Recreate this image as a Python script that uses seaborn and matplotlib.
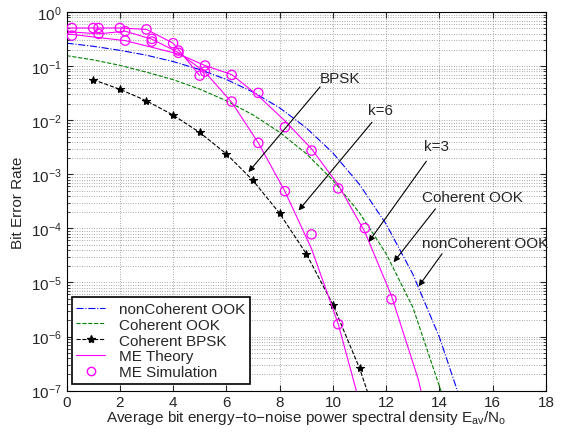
import matplotlib
matplotlib.use('Agg')
import matplotlib.pyplot as plt
import seaborn as sns
from matplotlib.lines import Line2D
from matplotlib.ticker import LogLocator, NullFormatter

# Curvas teóricas
snr_ook = [0, 1, 2, 3, 4, 5, 6, 7, 8, 9, 10, 11, 12, 13, 14, 15]
noncoh_ook = [0.267, 0.234, 0.197, 0.160, 0.122, 0.0869, 0.0569, 0.0333, 0.0170,
              0.00726, 0.00249, 6.5e-4, 1.2e-4, 1.43e-5, 9.7e-7, 3.3e-8]
coh_ook = [0.157, 0.131, 0.104, 0.0777, 0.0565, 0.0377, 0.023, 0.0126, 0.0060,
           0.00242, 7.8e-4, 1.94e-4, 3.4e-5, 3.5e-6, 1.2e-7, 4e-9]

snr_bpsk = [1, 2, 3, 4, 5, 6, 7, 8, 9, 10, 11, 12]
coh_bpsk = [0.0563, 0.0375, 0.0229, 0.0125, 0.00595, 0.00239, 7.7e-4, 1.9e-4,
            3.4e-5, 3.9e-6, 2.6e-7, 9e-9]

# ME teoría (k=6, k=3 y tramo inicial)
me_k6_x = [0, 1.2, 2.2, 3.2, 4.2, 5.2, 6.2, 7.2, 8.2, 9.2, 10.2, 11.2]
me_k6_y = [0.438, 0.397, 0.445, 0.317, 0.179, 0.0776, 0.0216, 0.00382, 4.84e-4,
           4.18e-5, 1.71e-6, 2.6e-8]
me_k3_x = [0, 2.2, 4.2, 5.2, 6.2, 7.2, 8.2, 9.2, 10.2, 11.2, 12.2, 13.2, 14.2]
me_k3_y = [0.397, 0.298, 0.169, 0.103, 0.0701, 0.0283, 0.00975, 0.00296, 6.38e-4,
           8.63e-5, 5.65e-6, 1.65e-7, 1.5e-9]
me_low_x = [0, 1, 2, 3, 4, 5]
me_low_y = [0.51, 0.51, 0.51, 0.48, 0.267, 0.067]

# ME simulación
sim_k3_x = [0.2, 1.2, 2.2, 3.2, 4.2, 5.2, 6.2, 7.2, 8.2, 9.2, 10.2, 11.2, 12.2]
sim_k3_y = [0.369, 0.397, 0.298, 0.286, 0.177, 0.103, 0.069, 0.0321, 0.00746,
            0.00275, 5.5e-4, 1.01e-4, 4.9e-6]
sim_k6_x = [0.2, 1.2, 2.2, 3.2, 4.2, 5.2, 6.2, 7.2, 8.2, 9.2, 10.2]
sim_k6_y = [0.51, 0.51, 0.445, 0.321, 0.195, 0.0796, 0.0222, 0.00382, 4.89e-4,
            7.76e-5, 1.69e-6]
sim_int_x = [1, 2, 3, 4, 5]
sim_int_y = [0.51, 0.51, 0.48, 0.267, 0.067]

sns.set_style('ticks')
plt.rcParams['font.family'] = ['Liberation Sans', 'DejaVu Sans']
plt.rcParams['mathtext.fontset'] = 'custom'
plt.rcParams['mathtext.rm'] = 'Liberation Sans'
plt.rcParams['mathtext.it'] = 'Liberation Sans:italic'
plt.rcParams['font.size'] = 11

fig = plt.figure(figsize=(5.64, 4.39), dpi=100)
ax = fig.add_axes([0.118, 0.108, 0.850, 0.862])
ax.set_yscale('log')

LW = 0.8
sns.lineplot(x=snr_ook, y=noncoh_ook, ax=ax, color='#0000ff', lw=LW, linestyle='-.', sort=False)
sns.lineplot(x=snr_ook, y=coh_ook, ax=ax, color='#008000', lw=LW, linestyle='--', sort=False)
sns.lineplot(x=snr_bpsk, y=coh_bpsk, ax=ax, color='k', lw=LW, linestyle='--', marker='*',
             markersize=6, markeredgecolor='k', sort=False)
for xs, ys in [(me_k6_x, me_k6_y), (me_k3_x, me_k3_y), (me_low_x, me_low_y)]:
    sns.lineplot(x=xs, y=ys, ax=ax, color='#ff00ff', lw=LW, sort=False)
for xs, ys in [(sim_k3_x, sim_k3_y), (sim_k6_x, sim_k6_y), (sim_int_x, sim_int_y)]:
    sns.scatterplot(x=xs, y=ys, ax=ax, marker='o', s=45, color='#ff00ff',
                    facecolor='none', edgecolor='#ff00ff', linewidth=0.9, zorder=3)

ax.set_xlim(0, 18)
ax.set_ylim(1e-7, 1)
ax.set_xticks(range(0, 19, 2))
ax.yaxis.set_major_locator(LogLocator(base=10, numticks=10))
ax.yaxis.set_minor_locator(LogLocator(base=10, subs=range(2, 10), numticks=20))
ax.yaxis.set_minor_formatter(NullFormatter())
ax.tick_params(which='both', direction='in', top=True, right=True, labelsize=11)
ax.tick_params(which='major', length=4)
ax.tick_params(which='minor', length=2)
ax.grid(True, which='major', color='0.35', lw=0.5, linestyle=(0, (1, 2.5)))
ax.grid(True, which='minor', axis='y', color='0.35', lw=0.5, linestyle=(0, (1, 2.5)))
for s in ax.spines.values():
    s.set_linewidth(0.8)
    s.set_color('k')

ax.set_xlabel('Average bit energy\u2212to\u2212noise power spectral density E$_{\\rm av}$/N$_{\\rm o}$',
              labelpad=-1)
ax.set_ylabel('Bit Error Rate', labelpad=4)

# Flechas con texto
flecha = dict(arrowstyle='-|>', color='k', lw=0.8, mutation_scale=9, shrinkA=0, shrinkB=0)
anotaciones = [
    ('BPSK', (6.83, 1.1e-3), (9.52, 0.0415), (9.52, 0.061)),
    ('k=6', (8.71, 2.14e-4), (11.47, 9.2e-3), (11.33, 0.0156)),
    ('k=3', (11.34, 5.6e-5), (13.51, 1.75e-3), (13.43, 3.3e-3)),
    ('Coherent OOK', (12.28, 2.37e-5), (13.85, 2.3e-4), (13.35, 3.75e-4)),
    ('nonCoherent OOK', (13.22, 8.5e-6), (14.1, 3.4e-5), (13.35, 5.4e-5)),
]
for texto, punta, cola, pos in anotaciones:
    ax.annotate('', xy=punta, xytext=cola, arrowprops=flecha)
    ax.text(pos[0], pos[1], texto, ha='left', va='center', fontsize=11, clip_on=False)

handles = [
    Line2D([], [], color='#0000ff', lw=LW, linestyle='-.'),
    Line2D([], [], color='#008000', lw=LW, linestyle='--'),
    Line2D([], [], color='k', lw=LW, linestyle='--', marker='*', markersize=6),
    Line2D([], [], color='#ff00ff', lw=LW),
    Line2D([], [], color='#ff00ff', lw=0, marker='o', mfc='none', markersize=6),
]
labels = ['nonCoherent OOK', 'Coherent OOK', 'Coherent BPSK', 'ME Theory', 'ME Simulation']
leg = ax.legend(handles, labels, loc='lower left', bbox_to_anchor=(0.0104, 0.0177),
                borderaxespad=0, fancybox=False, framealpha=1, edgecolor='k',
                fontsize=11, handlelength=1.9, labelspacing=0.12, borderpad=0.3,
                handletextpad=0.9)
leg.get_frame().set_linewidth(1.2)

fig.savefig('out.png', dpi=100)
